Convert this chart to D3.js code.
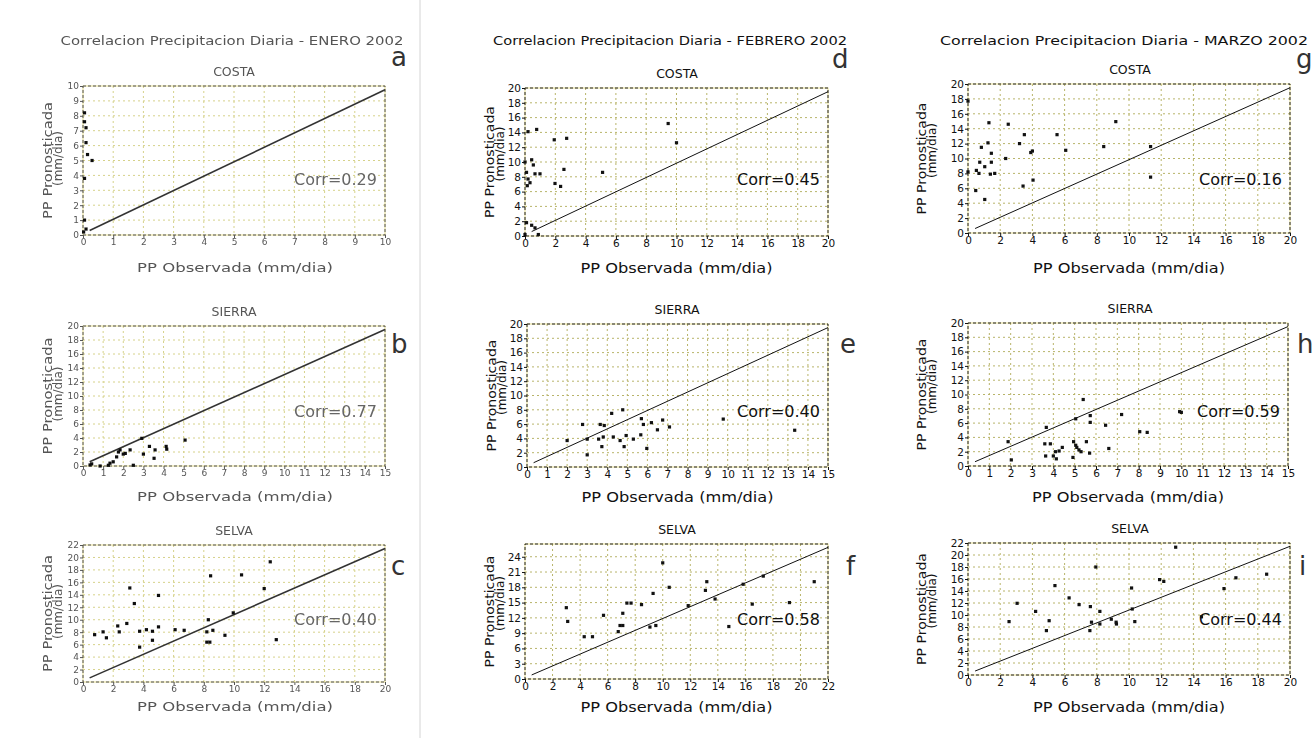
<!DOCTYPE html>
<html>
<head>
<meta charset="utf-8">
<script src="https://cdn.jsdelivr.net/npm/d3@7"></script>
<style>
  body { margin: 0; background: #fff; }
  text { font-family: "DejaVu Sans", sans-serif; }
</style>
</head>
<body>
<div id="chart"></div>
<script>
// ---- data ----
var months = ["ENERO", "FEBRERO", "MARZO"];
var regions = ["COSTA", "SIERRA", "SELVA"];
var letters = [["a", "b", "c"], ["d", "e", "f"], ["g", "h", "i"]];
var corrValues = [[0.29, 0.77, 0.40], [0.45, 0.40, 0.58], [0.16, 0.59, 0.44]];

// axis maxima / tick steps per panel [col][row]
var xMaxes = [[10, 15, 20], [20, 15, 22], [20, 15, 20]];
var yMaxes = [[10, 20, 22], [20, 20, 26.5], [20, 20, 22]];
var yTickTops = [[10, 20, 22], [20, 20, 24], [20, 20, 22]];
var xSteps = [[1, 1, 2], [2, 1, 2], [2, 1, 2]];
var ySteps = [[1, 2, 2], [2, 2, 3], [2, 2, 2]];

// [observada, pronosticada]
var eneroCosta = [[0.05, 8.2], [0.05, 7.6], [0.1, 7.2], [0.1, 6.2], [0.15, 5.4], [0.3, 5.0],
  [0.05, 3.8], [0.05, 1.0], [0.1, 0.4], [0.02, 0.2]];
var eneroSierra = [[0.35, 0.15], [0.43, 0.3], [0.85, 0.0], [1.26, 0.1], [1.34, 0.4], [1.5, 0.6],
  [1.67, 1.3], [1.76, 2.0], [1.84, 2.3], [2.0, 1.7], [2.1, 1.8], [2.34, 2.3], [2.5, 0.1],
  [2.92, 3.95], [3.0, 1.7], [3.3, 2.8], [3.58, 2.3], [3.53, 1.1], [4.13, 2.8], [4.16, 2.4], [5.07, 3.7]];
var eneroSelva = [[0.77, 7.6], [1.33, 8.05], [1.55, 7.1], [2.3, 9.0], [2.4, 8.05], [2.9, 9.4],
  [3.1, 15.1], [3.4, 12.6], [3.75, 8.15], [3.75, 5.6], [4.2, 8.4], [4.6, 8.15], [4.6, 6.7],
  [5.0, 13.9], [5.0, 8.85], [6.1, 8.4], [6.7, 8.3], [8.2, 8.05], [8.2, 6.4], [8.4, 6.4],
  [8.3, 10.0], [8.45, 17.05], [8.6, 8.3], [9.4, 7.5], [9.95, 11.1], [10.5, 17.2], [12.0, 15.0],
  [12.4, 19.3], [12.8, 6.8]];
var febreroCosta = [[0.2, 14.1], [0.77, 14.4], [0.0, 10.0], [0.44, 10.3], [0.55, 9.6], [0.1, 8.6],
  [0.2, 7.7], [0.15, 6.8], [0.33, 7.2], [0.99, 8.4], [0.66, 8.4], [1.93, 13.0], [2.75, 13.2],
  [2.57, 9.0], [1.98, 7.1], [2.35, 6.7], [5.12, 8.6], [9.45, 15.2], [10.0, 12.6], [0.44, 1.45],
  [0.66, 1.1], [0.88, 0.2], [0.1, 1.8], [0.0, 0.2]];
var febreroSierra = [[2.0, 3.7], [2.77, 5.95], [3.0, 3.9], [3.0, 1.7], [3.57, 3.9], [3.65, 5.95],
  [3.85, 5.8], [3.73, 2.85], [3.8, 4.2], [4.22, 7.5], [4.3, 4.2], [4.64, 3.7], [4.77, 8.0],
  [4.84, 2.85], [4.94, 4.4], [5.3, 3.9], [5.7, 6.76], [5.8, 5.95], [5.67, 4.5], [5.97, 2.6],
  [6.2, 6.2], [6.5, 5.2], [6.76, 6.57], [7.1, 5.6], [9.78, 6.7], [13.34, 5.14]];
var febreroSelva = [[3.0, 14.0], [3.1, 11.3], [4.3, 8.3], [4.9, 8.3], [5.7, 12.5], [6.77, 9.3],
  [6.9, 10.5], [7.1, 10.5], [7.1, 12.9], [7.4, 14.9], [7.7, 14.9], [8.46, 14.6], [9.07, 10.2],
  [9.5, 10.5], [9.3, 16.8], [10.0, 22.8], [10.47, 18.0], [11.85, 14.4], [13.1, 17.4],
  [13.2, 19.1], [13.8, 15.7], [15.84, 18.6], [16.5, 14.7], [17.3, 20.2], [14.8, 10.3],
  [19.2, 15.0], [21.0, 19.1]];
var marzoCosta = [[0.0, 17.7], [1.3, 14.8], [2.5, 14.6], [1.24, 12.1], [0.83, 11.5], [3.5, 13.2],
  [3.2, 12.0], [1.45, 10.7], [1.45, 9.5], [0.73, 9.5], [1.04, 8.9], [0.52, 8.4], [0.68, 8.0],
  [1.39, 7.9], [1.66, 8.0], [0.0, 8.2], [0.48, 5.7], [1.04, 4.5], [2.34, 10.0], [3.42, 6.3],
  [3.9, 10.8], [4.0, 11.0], [4.04, 7.1], [5.53, 13.2], [6.07, 11.1], [8.43, 11.6], [9.18, 14.95],
  [11.34, 11.6], [11.34, 7.5]];
var marzoSierra = [[1.88, 3.4], [2.03, 0.85], [3.67, 5.4], [3.6, 3.1], [3.64, 1.4], [3.86, 3.1],
  [4.0, 1.4], [4.1, 2.0], [4.27, 2.1], [4.14, 1.0], [4.42, 2.6], [4.92, 1.2], [4.95, 3.4],
  [5.05, 2.9], [5.1, 2.6], [5.2, 2.25], [5.3, 2.0], [5.05, 6.6], [5.4, 9.3], [5.55, 3.4],
  [5.73, 7.05], [5.73, 6.1], [5.7, 1.8], [6.45, 5.7], [6.6, 2.45], [7.2, 7.2], [8.05, 4.8],
  [8.4, 4.7], [9.92, 7.6], [10.0, 7.5]];
var marzoSelva = [[2.55, 8.9], [3.05, 11.95], [4.2, 10.6], [4.87, 7.4], [5.04, 9.05], [5.4, 14.9],
  [6.28, 12.85], [6.9, 11.73], [7.6, 11.4], [7.57, 7.4], [7.67, 8.8], [7.94, 18.0], [8.19, 10.6],
  [8.19, 8.5], [8.9, 9.3], [9.22, 8.5], [9.2, 8.8], [10.16, 14.5], [10.2, 11.0], [10.36, 8.9],
  [11.9, 15.9], [12.16, 15.6], [12.9, 21.3], [15.9, 14.4], [16.64, 16.2], [18.55, 16.8], [14.5, 9.7]];

var panelData = [[eneroCosta, eneroSierra, eneroSelva],
                 [febreroCosta, febreroSierra, febreroSelva],
                 [marzoCosta, marzoSierra, marzoSelva]];

// ---- layout ----
var svgWidth = 1315;
var svgHeight = 738;

// plot boxes [x0, y0, x1, y1] per [col][row]
var boxes = [
  [[83, 86, 385, 235], [83, 326, 385, 466], [83, 545, 385, 682]],
  [[525, 88, 828, 236], [527, 324, 828, 467], [525, 544, 828, 679]],
  [[968, 84, 1290, 233], [968, 323, 1288, 466], [968, 543, 1290, 675]]
];
var titleCenters = [232, 670, 1124];
var titleWidths = [343, 354, 368];
var subCenters = [234, 677, 1130];
var xLabelY = [268, 497, 707];
var corrY = [180, 412, 620];
var yLabelOffset = [35, 35, 46];
var letterPos = [
  [[391, 66], [391, 353], [391, 575]],
  [[832, 68], [840, 353], [846, 575]],
  [[1296, 68], [1297, 353], [1299, 575]]
];

var svg = d3.select("#chart").append("svg")
  .attr("width", svgWidth)
  .attr("height", svgHeight);

// the scanned left column is a bit fuzzy
svg.append("defs").append("filter").attr("id", "soft")
  .append("feGaussianBlur").attr("stdDeviation", 0.55);

// separator between first and second column
svg.append("line")
  .attr("x1", 420).attr("x2", 420).attr("y1", 0).attr("y2", svgHeight)
  .attr("stroke", "#d4d4d4").attr("stroke-width", 1);

for (var c = 0; c < 3; c++) {
  var old = c === 0;
  var colG = svg.append("g");
  if (old) colG.attr("filter", "url(#soft)");
  var ink = old ? "#555" : "#111";

  colG.append("text")
    .attr("x", titleCenters[c]).attr("y", 40)
    .attr("text-anchor", "middle").attr("dominant-baseline", "central")
    .attr("font-size", 12.5).attr("fill", ink)
    .attr("textLength", titleWidths[c]).attr("lengthAdjust", "spacingAndGlyphs")
    .text("Correlacion Precipitacion Diaria - " + months[c] + " 2002");

  for (var r = 0; r < 3; r++) {
    drawPanel(colG, c, r, old, ink);
  }
}

function drawPanel(g, c, r, old, ink) {
  var b = boxes[c][r];
  var xMax = xMaxes[c][r], yMax = yMaxes[c][r];
  var x = d3.scaleLinear().domain([0, xMax]).range([b[0], b[2]]);
  var y = d3.scaleLinear().domain([0, yMax]).range([b[3], b[1]]);
  var xt = d3.range(0, xMax + 1e-9, xSteps[c][r]);
  var yt = d3.range(0, yTickTops[c][r] + 1e-9, ySteps[c][r]);
  var gridColor = old ? "#d6d28a" : "#b8b46a";

  // grid
  g.append("g").selectAll("line").data(xt.filter(function (v) { return v > 0 && v < xMax; }))
    .join("line")
    .attr("x1", function (d) { return x(d); }).attr("x2", function (d) { return x(d); })
    .attr("y1", b[1]).attr("y2", b[3])
    .attr("stroke", gridColor).attr("stroke-dasharray", "2,3");
  g.append("g").selectAll("line").data(yt.filter(function (v) { return v > 0 && v < yMax; }))
    .join("line")
    .attr("x1", b[0]).attr("x2", b[2])
    .attr("y1", function (d) { return y(d); }).attr("y2", function (d) { return y(d); })
    .attr("stroke", gridColor).attr("stroke-dasharray", "2,3");

  // frame
  g.append("rect")
    .attr("x", b[0]).attr("y", b[1]).attr("width", b[2] - b[0]).attr("height", b[3] - b[1])
    .attr("fill", "none").attr("stroke", "#e2d98c");
  g.append("rect")
    .attr("x", b[0]).attr("y", b[1]).attr("width", b[2] - b[0]).attr("height", b[3] - b[1])
    .attr("fill", "none").attr("stroke", old ? "#555" : "#222").attr("stroke-dasharray", "3,2");

  // axes
  var tickFont = old ? 9 : 10.5;
  var xAxis = g.append("g").attr("transform", "translate(0," + b[3] + ")")
    .call(d3.axisBottom(x).tickValues(xt).tickSize(3).tickPadding(1).tickFormat(d3.format("d")));
  var yAxis = g.append("g").attr("transform", "translate(" + b[0] + ",0)")
    .call(d3.axisLeft(y).tickValues(yt).tickSize(3).tickPadding(1).tickFormat(d3.format("d")));
  [xAxis, yAxis].forEach(function (ax) {
    ax.select(".domain").remove();
    ax.selectAll("line").attr("stroke", ink);
    ax.selectAll("text").attr("fill", ink).attr("font-size", tickFont)
      .attr("font-family", "'Liberation Sans Narrow', 'Liberation Sans', sans-serif");
  });

  // reference diagonal
  var ref = [[xMax * 0.022, yMax * 0.03], [xMax, yMax * 0.975]];
  g.append("path")
    .datum(ref)
    .attr("d", d3.line().x(function (d) { return x(d[0]); }).y(function (d) { return y(d[1]); }))
    .attr("stroke", old ? "#333" : "#111").attr("stroke-width", old ? 1.6 : 1).attr("fill", "none");

  // points
  g.append("g").selectAll("rect").data(panelData[c][r]).join("rect")
    .attr("x", function (d) { return x(d[0]) - 1.6; })
    .attr("y", function (d) { return y(d[1]) - 1.6; })
    .attr("width", 3.2).attr("height", 3.2)
    .attr("fill", "#111");

  // texts
  var cx = (b[0] + b[2]) / 2;
  g.append("text")
    .attr("x", subCenters[c]).attr("y", b[1] - 15)
    .attr("text-anchor", "middle").attr("dominant-baseline", "central")
    .attr("font-size", 12.5).attr("fill", ink)
    .text(regions[r]);

  g.append("text")
    .attr("x", old ? 235 : cx).attr("y", xLabelY[r])
    .attr("text-anchor", "middle").attr("dominant-baseline", "central")
    .attr("font-size", old ? 12 : 14.5).attr("fill", ink)
    .attr("textLength", old ? 196 : 192).attr("lengthAdjust", "spacingAndGlyphs")
    .text(old ? "PP   Observada (mm/dia)" : "PP Observada (mm/dia)");

  var ly = (b[1] + b[3]) / 2;
  var lx = b[0] - yLabelOffset[c];
  g.append("text")
    .attr("transform", "translate(" + lx + "," + ly + ") rotate(-90)")
    .attr("text-anchor", "middle").attr("dominant-baseline", "central")
    .attr("font-size", 12).attr("fill", ink)
    .attr("textLength", old ? 117 : 112).attr("lengthAdjust", "spacingAndGlyphs")
    .text(old ? "PP   Pronosticada" : "PP Pronosticada");
  g.append("text")
    .attr("transform", "translate(" + (lx + 10) + "," + (ly - (old ? 2 : 8)) + ") rotate(-90)")
    .attr("text-anchor", "middle").attr("dominant-baseline", "central")
    .attr("font-size", 12).attr("fill", ink)
    .text("(mm/dia)");

  g.append("text")
    .attr("x", b[2] - 8).attr("y", corrY[r])
    .attr("text-anchor", "end").attr("dominant-baseline", "central")
    .attr("font-size", 15.5).attr("fill", old ? "#666" : "#111")
    .attr("textLength", 83).attr("lengthAdjust", "spacingAndGlyphs")
    .text("Corr=" + corrValues[c][r].toFixed(2));

  svg.append("text")
    .attr("x", letterPos[c][r][0]).attr("y", letterPos[c][r][1])
    .attr("font-family", "'Liberation Sans', Arial, sans-serif")
    .attr("font-size", 26).attr("fill", "#333")
    .text(letters[c][r]);
}
</script>
</body>
</html>
